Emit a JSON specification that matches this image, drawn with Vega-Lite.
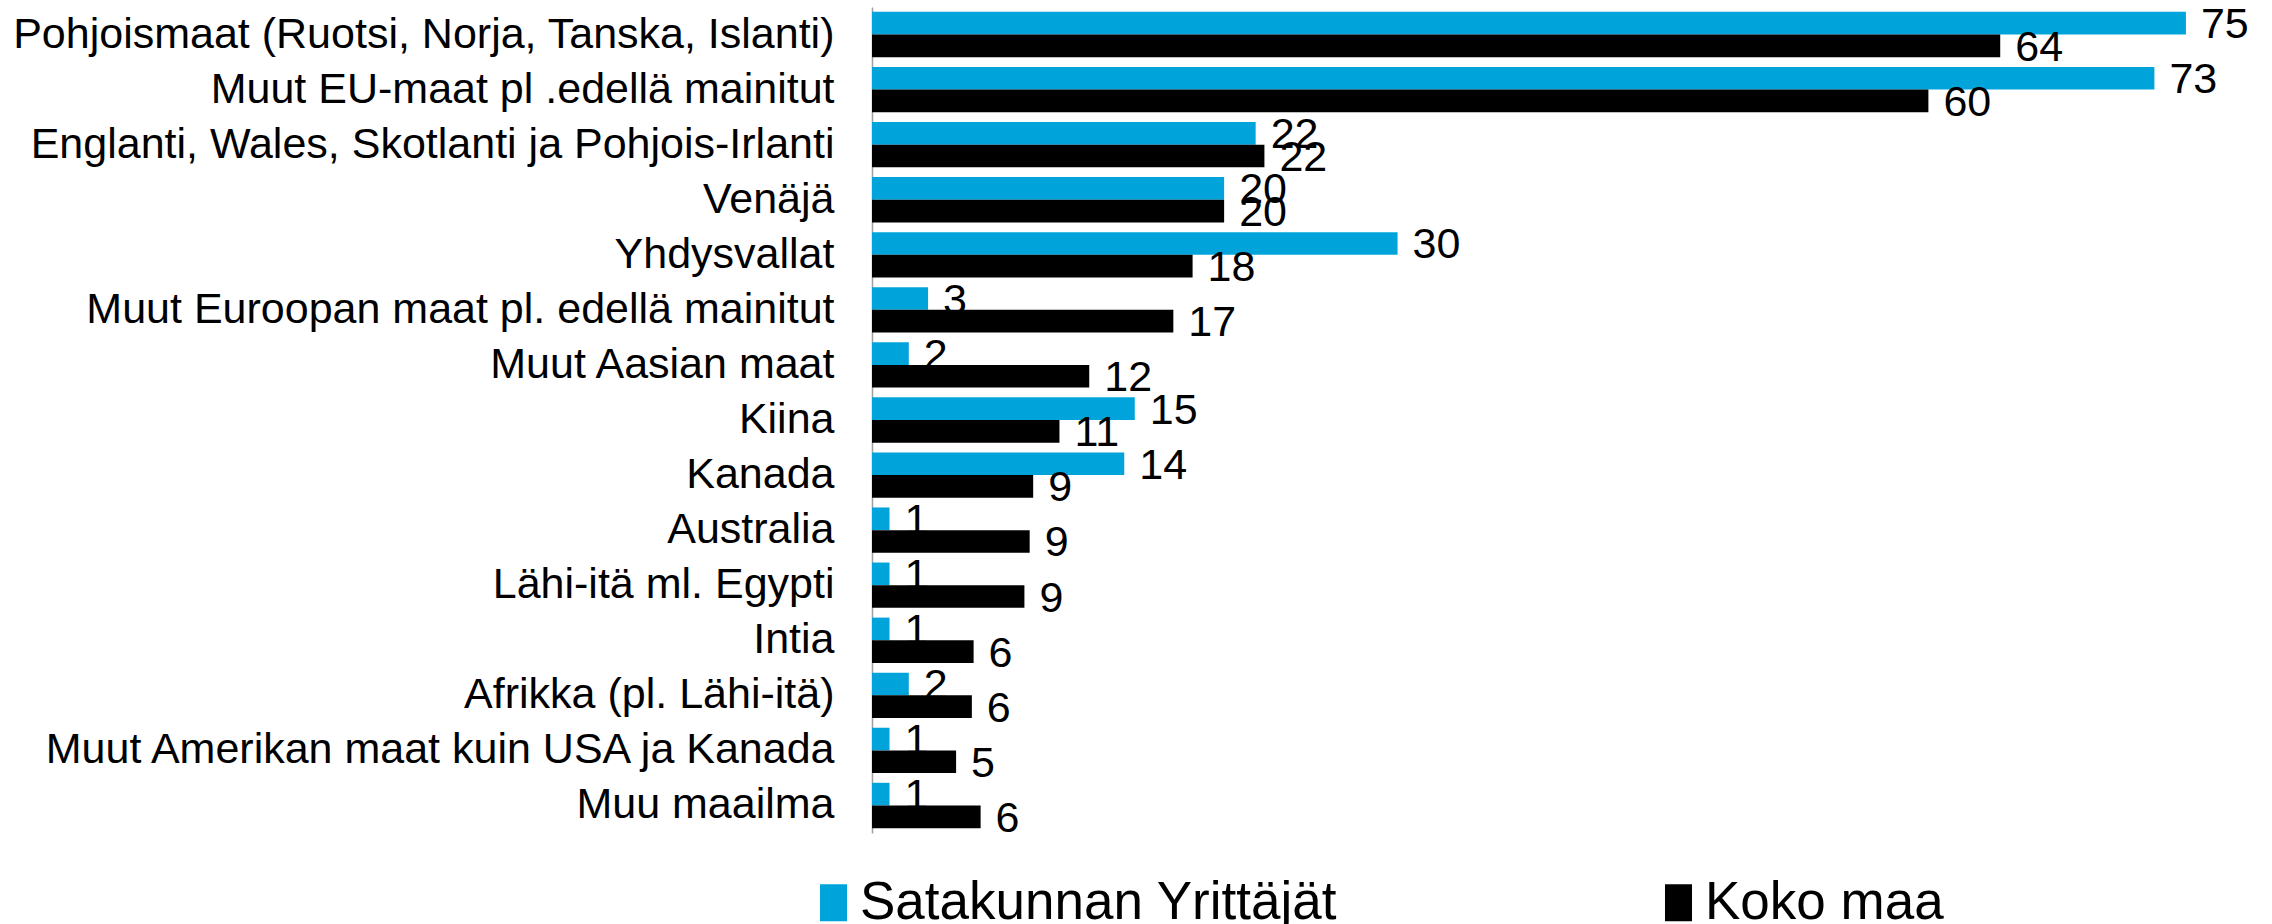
{
  "$schema": "https://vega.github.io/schema/vega-lite/v6.json",
  "width": 1384,
  "height": 826,
  "autosize": {"type": "none"},
  "padding": {"left": 872, "top": 7, "right": 16, "bottom": 91},
  "background": "white",
  "config": {"view": {"stroke": null}, "font": "Liberation Sans"},
  "data": {
    "values": [
      {"alue": "Pohjoismaat (Ruotsi, Norja, Tanska, Islanti)", "sarja": "Satakunnan Yrittäjät", "arvo": 75.0},
      {"alue": "Pohjoismaat (Ruotsi, Norja, Tanska, Islanti)", "sarja": "Koko maa", "arvo": 64.4},
      {"alue": "Muut EU-maat pl .edellä mainitut", "sarja": "Satakunnan Yrittäjät", "arvo": 73.2},
      {"alue": "Muut EU-maat pl .edellä mainitut", "sarja": "Koko maa", "arvo": 60.3},
      {"alue": "Englanti, Wales, Skotlanti ja Pohjois-Irlanti", "sarja": "Satakunnan Yrittäjät", "arvo": 21.9},
      {"alue": "Englanti, Wales, Skotlanti ja Pohjois-Irlanti", "sarja": "Koko maa", "arvo": 22.4},
      {"alue": "Venäjä", "sarja": "Satakunnan Yrittäjät", "arvo": 20.1},
      {"alue": "Venäjä", "sarja": "Koko maa", "arvo": 20.1},
      {"alue": "Yhdysvallat", "sarja": "Satakunnan Yrittäjät", "arvo": 30.0},
      {"alue": "Yhdysvallat", "sarja": "Koko maa", "arvo": 18.3},
      {"alue": "Muut Euroopan maat pl. edellä mainitut", "sarja": "Satakunnan Yrittäjät", "arvo": 3.2},
      {"alue": "Muut Euroopan maat pl. edellä mainitut", "sarja": "Koko maa", "arvo": 17.2},
      {"alue": "Muut Aasian maat", "sarja": "Satakunnan Yrittäjät", "arvo": 2.1},
      {"alue": "Muut Aasian maat", "sarja": "Koko maa", "arvo": 12.4},
      {"alue": "Kiina", "sarja": "Satakunnan Yrittäjät", "arvo": 15.0},
      {"alue": "Kiina", "sarja": "Koko maa", "arvo": 10.7},
      {"alue": "Kanada", "sarja": "Satakunnan Yrittäjät", "arvo": 14.4},
      {"alue": "Kanada", "sarja": "Koko maa", "arvo": 9.2},
      {"alue": "Australia", "sarja": "Satakunnan Yrittäjät", "arvo": 1.0},
      {"alue": "Australia", "sarja": "Koko maa", "arvo": 9.0},
      {"alue": "Lähi-itä ml. Egypti", "sarja": "Satakunnan Yrittäjät", "arvo": 1.0},
      {"alue": "Lähi-itä ml. Egypti", "sarja": "Koko maa", "arvo": 8.7},
      {"alue": "Intia", "sarja": "Satakunnan Yrittäjät", "arvo": 1.0},
      {"alue": "Intia", "sarja": "Koko maa", "arvo": 5.8},
      {"alue": "Afrikka (pl. Lähi-itä)", "sarja": "Satakunnan Yrittäjät", "arvo": 2.1},
      {"alue": "Afrikka (pl. Lähi-itä)", "sarja": "Koko maa", "arvo": 5.7},
      {"alue": "Muut Amerikan maat kuin USA ja Kanada", "sarja": "Satakunnan Yrittäjät", "arvo": 1.0},
      {"alue": "Muut Amerikan maat kuin USA ja Kanada", "sarja": "Koko maa", "arvo": 4.8},
      {"alue": "Muu maailma", "sarja": "Satakunnan Yrittäjät", "arvo": 1.0},
      {"alue": "Muu maailma", "sarja": "Koko maa", "arvo": 6.2}
    ]
  },
  "encoding": {
    "y": {
      "field": "alue", "type": "nominal", "sort": null,
      "scale": {"paddingInner": 0.177, "paddingOuter": 0.0885},
      "axis": {"title": null, "ticks": false, "tickSize": 0, "labelPadding": 38, "labelFontSize": 43, "labelColor": "black", "labelLimit": 900, "domainColor": "#A0A0A0", "domainWidth": 1.5, "grid": false}
    },
    "yOffset": {"field": "sarja", "type": "nominal", "sort": null},
    "x": {"field": "arvo", "type": "quantitative", "scale": {"domain": [0, 79]}, "axis": null}
  },
  "layer": [
    {
      "mark": {"type": "bar"},
      "encoding": {
        "color": {
          "field": "sarja", "type": "nominal", "sort": null,
          "scale": {"domain": ["Satakunnan Yrittäjät", "Koko maa"], "range": ["#00A4DA", "#000000"]},
          "legend": {"title": null, "orient": "none", "legendX": -65, "legendY": 869, "direction": "horizontal", "columns": 2, "labelFontSize": 53, "labelColor": "black", "symbolType": "M-0.73,-1h1.46v2h-1.46z", "symbolSize": 1369, "symbolStrokeWidth": 0, "columnPadding": 314, "labelOffset": 0, "padding": 0, "labelLimit": 1000}
        }
      }
    },
    {
      "mark": {"type": "text", "align": "left", "baseline": "middle", "dx": 15, "dy": 2, "fontSize": 43, "color": "black"},
      "encoding": {"text": {"field": "arvo", "type": "quantitative", "format": ".0f"}}
    }
  ]
}
